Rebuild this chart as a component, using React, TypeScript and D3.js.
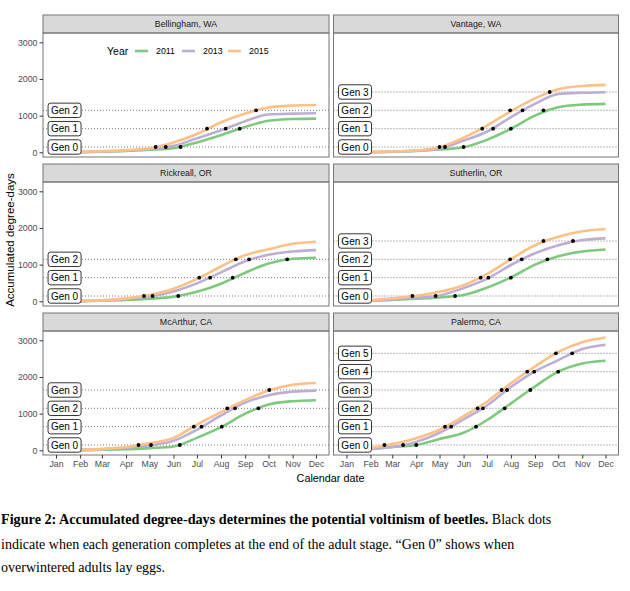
import React, { useEffect, useRef } from "react";
import * as d3 from "d3";

// month starts as day offsets from Jan 1
const monthDays = [0, 31, 59, 90, 120, 151, 181, 212, 243, 273, 304, 334];
const monthLabels = ["Jan", "Feb", "Mar", "Apr", "May", "Jun", "Jul", "Aug", "Sep", "Oct", "Nov", "Dec"];
const yTicks = [0, 1000, 2000, 3000];

const years = ["2011", "2013", "2015"];
const yearColors = ["#7FC97F", "#BEAED4", "#FDC086"];

const sites = ["Bellingham, WA", "Vantage, WA", "Rickreall, OR", "Sutherlin, OR", "McArthur, CA", "Palermo, CA"];
const genThresholds = [145, 645, 1145, 1645, 2145, 2645];
const siteMaxGen = [2, 3, 2, 3, 3, 5];

// accumulated degree-days at the first of each month (Jan..Dec)
const bellingham2011 = [0, 5, 15, 35, 70, 115, 270, 470, 690, 860, 910, 920];
const bellingham2013 = [0, 5, 20, 50, 90, 175, 380, 600, 850, 1030, 1055, 1065];
const bellingham2015 = [0, 10, 30, 60, 110, 270, 500, 820, 1060, 1220, 1275, 1290];
const vantage2011 = [0, 5, 15, 35, 75, 140, 340, 640, 1000, 1230, 1300, 1320];
const vantage2013 = [0, 5, 15, 45, 100, 320, 560, 960, 1320, 1590, 1625, 1640];
const vantage2015 = [0, 5, 20, 50, 140, 400, 730, 1120, 1470, 1720, 1810, 1840];
const rickreall2011 = [0, 5, 15, 35, 70, 125, 260, 480, 780, 1030, 1160, 1187];
const rickreall2013 = [0, 5, 20, 60, 130, 270, 490, 790, 1090, 1270, 1360, 1397];
const rickreall2015 = [0, 10, 30, 80, 170, 340, 610, 950, 1260, 1420, 1570, 1625];
const sutherlin2011 = [0, 15, 40, 70, 105, 170, 370, 650, 1000, 1230, 1360, 1415];
const sutherlin2013 = [0, 20, 55, 100, 160, 360, 610, 990, 1310, 1530, 1670, 1716];
const sutherlin2015 = [0, 30, 80, 150, 260, 440, 740, 1150, 1530, 1760, 1910, 1972];
const mcarthur2011 = [0, 5, 15, 30, 60, 105, 340, 630, 1000, 1250, 1340, 1367];
const mcarthur2013 = [0, 5, 25, 70, 130, 260, 560, 950, 1300, 1500, 1600, 1629];
const mcarthur2015 = [0, 10, 40, 90, 190, 340, 700, 1040, 1370, 1630, 1790, 1837];
const palermo2011 = [0, 40, 90, 145, 310, 480, 820, 1280, 1740, 2145, 2370, 2444];
const palermo2013 = [0, 40, 90, 230, 480, 844, 1220, 1725, 2150, 2460, 2760, 2878];
const palermo2015 = [0, 60, 170, 330, 560, 930, 1325, 1830, 2285, 2685, 2950, 3077];

// day offset at which each generation completes (index = generation)
const bellinghamDots2011 = [160, 236];
const bellinghamDots2013 = [141, 218];
const bellinghamDots2015 = [128, 194, 257];
const vantageDots2011 = [151, 212, 254];
const vantageDots2013 = [127, 189, 227];
const vantageDots2015 = [120, 175, 211, 262];
const rickreallDots2011 = [157, 227, 297];
const rickreallDots2013 = [124, 198, 248];
const rickreallDots2015 = [113, 184, 231];
const sutherlinDots2011 = [140, 212, 259];
const sutherlinDots2013 = [115, 183, 226, 292];
const sutherlinDots2015 = [85, 173, 211, 254];
const mcarthurDots2011 = [159, 213, 260];
const mcarthurDots2013 = [122, 187, 230];
const mcarthurDots2015 = [106, 177, 220, 274];
const palermoDots2011 = [90, 167, 204, 237, 273];
const palermoDots2013 = [73, 135, 176, 207, 242, 291];
const palermoDots2015 = [49, 127, 169, 200, 233, 270];

const siteCurves = [
  [bellingham2011, bellingham2013, bellingham2015],
  [vantage2011, vantage2013, vantage2015],
  [rickreall2011, rickreall2013, rickreall2015],
  [sutherlin2011, sutherlin2013, sutherlin2015],
  [mcarthur2011, mcarthur2013, mcarthur2015],
  [palermo2011, palermo2013, palermo2015],
];
const siteDots = [
  [bellinghamDots2011, bellinghamDots2013, bellinghamDots2015],
  [vantageDots2011, vantageDots2013, vantageDots2015],
  [rickreallDots2011, rickreallDots2013, rickreallDots2015],
  [sutherlinDots2011, sutherlinDots2013, sutherlinDots2015],
  [mcarthurDots2011, mcarthurDots2013, mcarthurDots2015],
  [palermoDots2011, palermoDots2013, palermoDots2015],
];

const labelDay = 11;
const sans = "'Liberation Sans', Arial, sans-serif";
const serif = "'Liberation Serif', 'Times New Roman', serif";

const App: React.FC = () => {
  const svgRef = useRef<SVGSVGElement>(null);

  useEffect(() => {
    if (!svgRef.current) return;
    const svg = d3.select(svgRef.current);
    svg.selectAll("*").remove();

    svg.append("rect").attr("width", 630).attr("height", 591).attr("fill", "#fff");

    const colX = [
      [43, 329],
      [333.5, 618.5],
    ];
    const rowTop = [15, 164, 313];
    const stripH = 18;
    const panelH = 124;

    sites.forEach((site, i) => {
      const col = i % 2;
      const row = Math.floor(i / 2);
      const [x0, x1] = colX[col];
      const top = rowTop[row];
      const pTop = top + stripH;
      const pBot = pTop + panelH;

      const x = d3.scaleLinear().domain([-16.7, 334 + 16.7]).range([x0, x1]);
      const y = d3.scaleLinear().domain([-128, 3254]).range([pBot, pTop]);

      const g = svg.append("g");

      // strip
      g.append("rect")
        .attr("x", x0).attr("y", top).attr("width", x1 - x0).attr("height", stripH)
        .attr("fill", "#d9d9d9").attr("stroke", "#777").attr("stroke-width", 1);
      g.append("text")
        .attr("x", (x0 + x1) / 2).attr("y", top + stripH / 2 + 3.2)
        .attr("text-anchor", "middle").attr("font-family", sans).attr("font-size", 8.8)
        .attr("fill", "#1a1a1a").text(site);

      // generation reference lines
      const gens = d3.range(siteMaxGen[i] + 1);
      g.selectAll(".gl").data(gens).enter().append("line")
        .attr("x1", x0).attr("x2", x1)
        .attr("y1", (d) => y(genThresholds[d])).attr("y2", (d) => y(genThresholds[d]))
        .attr("stroke", "#555").attr("stroke-width", 0.8).attr("stroke-dasharray", "1,2");

      // curves
      const line = d3.line<number>()
        .x((_, k) => x(monthDays[k]))
        .y((d) => y(d))
        .curve(d3.curveMonotoneX);
      siteCurves[i].forEach((vals, k) => {
        g.append("path").datum(vals)
          .attr("fill", "none").attr("stroke", yearColors[k]).attr("stroke-width", 2.6)
          .attr("d", line);
      });

      // generation completion dots
      siteDots[i].forEach((days) => {
        g.selectAll(null).data(days).enter().append("circle")
          .attr("cx", (d) => x(d)).attr("cy", (_, n) => y(genThresholds[n]))
          .attr("r", 1.9).attr("fill", "#000");
      });

      // gen labels
      gens.forEach((n) => {
        const cx = x(labelDay);
        const cy = y(genThresholds[n]);
        g.append("rect")
          .attr("x", cx - 16.5).attr("y", cy - 7.2).attr("width", 33).attr("height", 14.4)
          .attr("rx", 2.5).attr("fill", "#fff").attr("stroke", "#000").attr("stroke-width", 0.8);
        g.append("text")
          .attr("x", cx).attr("y", cy + 3.6).attr("text-anchor", "middle")
          .attr("font-family", sans).attr("font-size", 10).attr("fill", "#000")
          .text(`Gen ${n}`);
      });

      // panel border
      g.append("rect")
        .attr("x", x0).attr("y", pTop).attr("width", x1 - x0).attr("height", panelH)
        .attr("fill", "none").attr("stroke", "#777").attr("stroke-width", 1);

      // y axis on left column
      if (col === 0) {
        const ya = g.append("g").attr("transform", `translate(${x0},0)`)
          .call(d3.axisLeft(y).tickValues(yTicks).tickFormat(d3.format("d")).tickSize(3.5).tickPadding(2));
        ya.select(".domain").remove();
        ya.selectAll("line").attr("stroke", "#333");
        ya.selectAll("text").attr("font-family", sans).attr("font-size", 8.8).attr("fill", "#4d4d4d");
      }
      // x axis on bottom row
      if (row === 2) {
        const xa = g.append("g").attr("transform", `translate(0,${pBot})`)
          .call(d3.axisBottom(x).tickValues(monthDays).tickFormat((_, k) => monthLabels[k])
            .tickSize(3.5).tickPadding(2));
        xa.select(".domain").remove();
        xa.selectAll("line").attr("stroke", "#333");
        xa.selectAll("text").attr("font-family", sans).attr("font-size", 8.8).attr("fill", "#4d4d4d");
      }
    });

    // legend in first panel
    const lg = svg.append("g").attr("font-family", sans);
    lg.append("text").attr("x", 107).attr("y", 55).attr("font-size", 10.5).attr("fill", "#000").text("Year");
    const keyX = [135, 182, 228];
    years.forEach((yr, k) => {
      lg.append("line").attr("x1", keyX[k]).attr("x2", keyX[k] + 13).attr("y1", 51).attr("y2", 51)
        .attr("stroke", yearColors[k]).attr("stroke-width", 2.6);
      lg.append("text").attr("x", keyX[k] + 21).attr("y", 54.2).attr("font-size", 8.8)
        .attr("fill", "#000").text(yr);
    });

    // axis titles
    svg.append("text")
      .attr("transform", "translate(14,240) rotate(-90)")
      .attr("text-anchor", "middle").attr("font-family", sans).attr("font-size", 11.5)
      .attr("fill", "#000").text("Accumulated degree-days");
    svg.append("text")
      .attr("x", 330.5).attr("y", 482).attr("text-anchor", "middle")
      .attr("font-family", sans).attr("font-size", 10.8).attr("fill", "#000").text("Calendar date");

    // caption
    const cap = svg.append("g").attr("font-family", serif).attr("font-size", 14).attr("fill", "#000");
    const l1 = cap.append("text").attr("x", 1).attr("y", 524);
    l1.append("tspan").attr("font-weight", "bold").attr("font-size", 14.2)
      .text("Figure 2: Accumulated degree-days determines the potential voltinism of beetles.");
    l1.append("tspan").text(" Black dots");
    cap.append("text").attr("x", 1).attr("y", 549)
      .text("indicate when each generation completes at the end of the adult stage. \u201cGen 0\u201d shows when");
    cap.append("text").attr("x", 1).attr("y", 572).text("overwintered adults lay eggs.");
  }, []);

  return (
    <svg
      ref={svgRef}
      width={630}
      height={591}
      style={{ position: "absolute", left: 0, top: 0, display: "block" }}
    />
  );
};

export default App;
